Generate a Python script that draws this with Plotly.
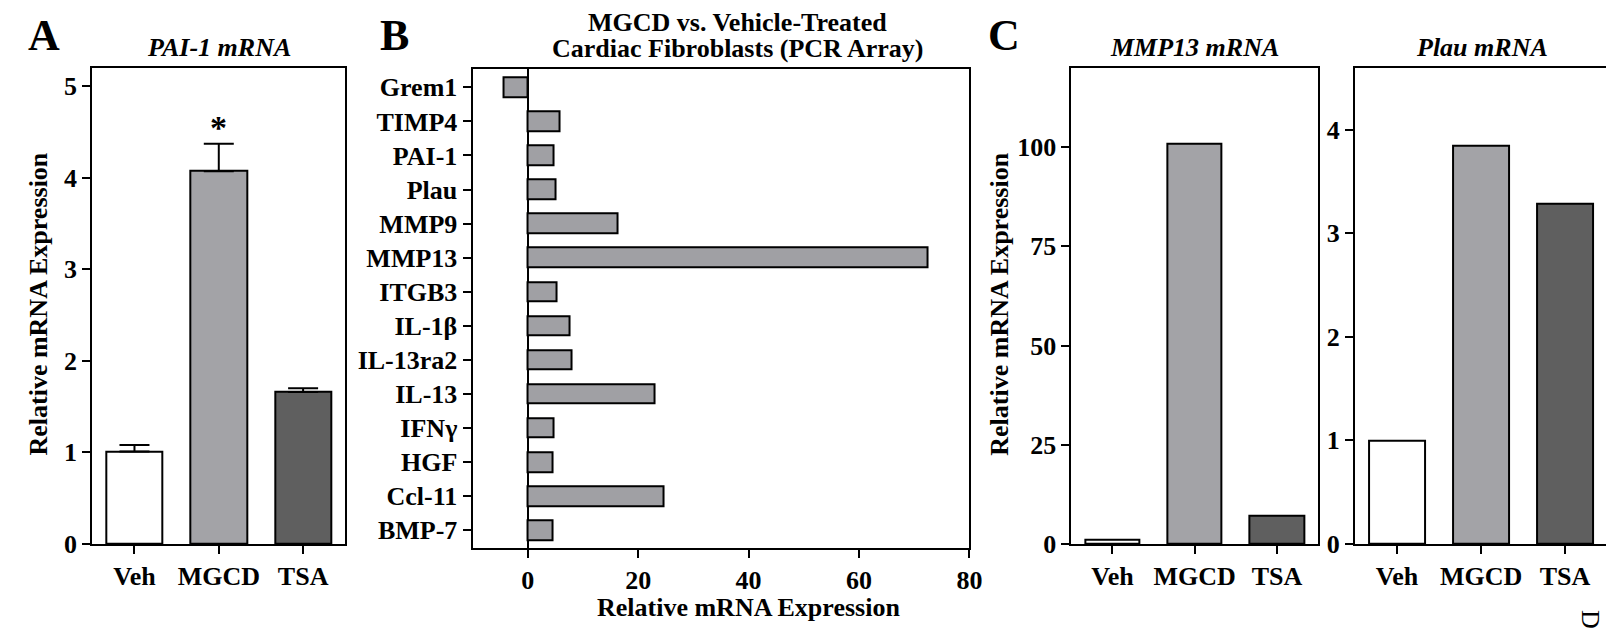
import plotly.graph_objects as go

W, H = 1614, 629
FONT = "Liberation Serif"

# ---------------- data ----------------
groups = ["Veh", "MGCD", "TSA"]
pai1_mean = [1.01, 4.07, 1.66]
pai1_err = [0.07, 0.30, 0.04]

genes = ["Grem1", "TIMP4", "PAI-1", "Plau", "MMP9", "MMP13", "ITGB3", "IL-1β",
         "IL-13ra2", "IL-13", "IFNγ", "HGF", "Ccl-11", "BMP-7"]
pcr_values = [-4.3, 5.7, 4.6, 5.1, 16.2, 72.4, 5.3, 7.5, 7.9, 23.0, 4.6, 4.5, 24.6, 4.4]

mmp13_values = [1.0, 100.8, 7.0]
plau_values = [1.0, 3.85, 3.29]

pai1_ticks = [0, 1, 2, 3, 4, 5]
pcr_ticks = [0, 20, 40, 60, 80]
mmp13_ticks = [0, 25, 50, 75, 100]
plau_ticks = [0, 1, 2, 3, 4]

# ---------------- styles ----------------
group_colors = ["white", "#a3a3a7", "#5f5f5f"]
pcr_color = "#a0a0a4"


def px_x(x):
    return x / W


def px_y(y):
    return 1 - y / H


tickfont = dict(family=FONT, size=26, color="black", weight="bold")
axis_common = dict(showline=True, linecolor="black", linewidth=2, mirror=True,
                   ticks="outside", ticklen=8, tickwidth=2, tickcolor="black",
                   showgrid=False, zeroline=False, tickfont=tickfont, fixedrange=True)

fig = go.Figure()

# Panel A
fig.add_trace(go.Bar(
    x=groups, y=pai1_mean, width=0.67,
    marker=dict(color=group_colors, line=dict(color="black", width=2)),
    error_y=dict(type="data", array=pai1_err, arrayminus=[0, 0, 0], symmetric=False,
                 color="black", thickness=2, width=15),
    xaxis="x", yaxis="y", showlegend=False))

# Panel B
fig.add_trace(go.Bar(
    x=pcr_values, y=genes, orientation="h", width=0.58,
    marker=dict(color=pcr_color, line=dict(color="black", width=2)),
    xaxis="x2", yaxis="y2", showlegend=False))

# Panel C - MMP13
fig.add_trace(go.Bar(
    x=groups, y=mmp13_values, width=0.66,
    marker=dict(color=group_colors, line=dict(color="black", width=2)),
    xaxis="x3", yaxis="y3", showlegend=False))

# Panel C - Plau
fig.add_trace(go.Bar(
    x=groups, y=plau_values, width=0.67,
    marker=dict(color=group_colors, line=dict(color="black", width=2)),
    xaxis="x4", yaxis="y4", showlegend=False))

yA = [px_y(549), px_y(61.2)]
yB = [px_y(553.3), px_y(62.8)]

fig.update_layout(
    width=W, height=H, autosize=False,
    margin=dict(l=0, r=0, t=0, b=0),
    paper_bgcolor="white", plot_bgcolor="white",
    bargap=0,
    xaxis=dict(axis_common, domain=[px_x(85), px_x(340)], anchor="y",
               range=[-0.5, 2.5], type="category"),
    yaxis=dict(axis_common, domain=yA, anchor="x", range=[0, 5.2], tickvals=pai1_ticks),
    xaxis2=dict(axis_common, domain=[px_x(468.3), px_x(969.3)], anchor="y2",
                range=[-10, 80], tickvals=pcr_ticks,
                zeroline=True, zerolinecolor="black", zerolinewidth=1.5),
    yaxis2=dict(axis_common, domain=yB, anchor="x2", type="category",
                categoryorder="array", categoryarray=genes, range=[13.53, -0.53]),
    xaxis3=dict(axis_common, domain=[px_x(1072), px_x(1320.7)], anchor="y3",
                range=[-0.5, 2.5], type="category"),
    yaxis3=dict(axis_common, domain=yA, anchor="x3", range=[0, 120], tickvals=mmp13_ticks),
    xaxis4=dict(axis_common, domain=[px_x(1358), px_x(1612)], anchor="y4",
                range=[-0.5, 2.5], type="category"),
    yaxis4=dict(axis_common, domain=yA, anchor="x4", range=[0, 4.6], tickvals=plau_ticks),
)

bold = dict(family=FONT, size=26, color="black", weight="bold")
bold_it = dict(family=FONT, size=26, color="black", weight="bold", style="italic")
letter = dict(family=FONT, size=44, color="black", weight="bold")


def ann(text, x, y, font, **kw):
    fig.add_annotation(text=text, x=px_x(x), y=px_y(y), xref="paper", yref="paper",
                       showarrow=False, font=font, xanchor=kw.pop("xanchor", "center"),
                       yanchor=kw.pop("yanchor", "middle"), **kw)


# panel letters
ann("A", 36.5, 28, letter)
ann("B", 390, 28, letter)
ann("C", 1004, 28.5, letter)

# titles
ann("PAI-1 mRNA", 212.5, 40.5, bold_it)
ann("MGCD vs. Vehicle-Treated", 735, 15, bold)
ann("Cardiac Fibroblasts (PCR Array)", 735, 41, bold)
ann("MMP13 mRNA", 1196, 40.5, bold_it)
ann("Plau mRNA", 1485.5, 40.5, bold_it)

# axis titles
ann("Relative mRNA Expression", 31, 303, bold, textangle=-90)
ann("Relative mRNA Expression", 1000, 303, bold, textangle=-90)
ann("Relative mRNA Expression", 746.5, 614, bold)

# significance star
fig.add_annotation(text="*", x="MGCD", y=pai1_mean[1] + pai1_err[1], xref="x", yref="y",
                   showarrow=False, yanchor="bottom", yshift=-4,
                   font=dict(family=FONT, size=34, color="black", weight="bold"))

# cropped edge letter
ann("D", 1596, 626, dict(family=FONT, size=26, color="black"), textangle=90)

fig.write_html("out.html")
